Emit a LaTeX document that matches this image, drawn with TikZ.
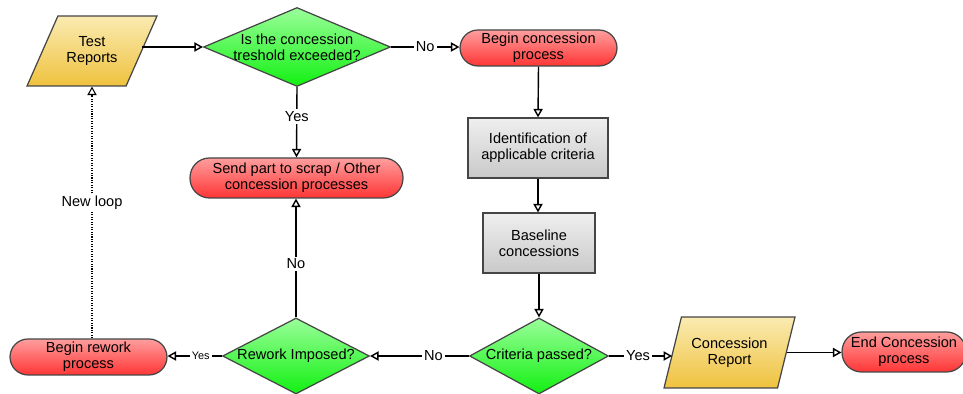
\documentclass[tikz,border=0pt]{standalone}
\usepackage{fontspec}
\setmainfont{Liberation Sans}
\usepackage{tikz}
\usetikzlibrary{positioning,shapes.geometric,arrows.meta}

\definecolor{edgegray}{HTML}{454545}
\definecolor{redtop}{HTML}{FF9E9E}
\definecolor{redbot}{HTML}{FF3535}
\definecolor{greentop}{HTML}{9AFF9A}
\definecolor{greenbot}{HTML}{12F012}
\definecolor{yellowtop}{HTML}{FAEBB2}
\definecolor{yellowbot}{HTML}{EFC23E}
\definecolor{graytop}{HTML}{EFEFEF}
\definecolor{graybot}{HTML}{C9C9C9}

\begin{document}
\begin{tikzpicture}[x=0.02cm,y=-0.02cm]
\tikzstyle{every node}+=[font=\fontsize{8.3}{9.3}\selectfont, align=center]
\tikzstyle{terminal}=[rectangle, rounded corners=0.36cm, draw=edgegray, line width=0.7pt, top color=redtop, bottom color=redbot, inner sep=0pt, minimum height=0.72cm]
\tikzstyle{process}=[rectangle, draw=edgegray, line width=0.7pt, top color=graytop, bottom color=graybot, inner sep=0pt, minimum height=1.2cm]
\tikzstyle{decision}=[diamond, draw=edgegray, line width=0.7pt, top color=greentop, bottom color=greenbot, inner sep=0pt]
\tikzstyle{report}=[trapezium, trapezium stretches body, draw=edgegray, line width=0.7pt, top color=yellowtop, bottom color=yellowbot, inner xsep=0pt, inner ysep=0.4cm]
\tikzstyle{conn}=[draw=black, line width=0.8pt, -{Triangle[open,length=4.8pt,width=5.2pt]}]
\tikzstyle{lbl}=[fill=white, inner sep=1.2pt]
\tikzstyle{small}=[font=\fontsize{6.2}{7}\selectfont]
\useasboundingbox (0,0) rectangle (963,394);

\node[report, trapezium left angle=66, trapezium right angle=114, minimum width=2.6cm, minimum height=1.4cm] (reports) at (92,51) {Test\\Reports};
\node[decision, minimum width=3.74cm, minimum height=1.58cm, label={center:Is the concession\\treshold exceeded?}] (threshold) at (297,47) {};
\node[terminal, minimum width=3.14cm] (begin) at (538.5,48) {Begin concession\\process};
\node[process, minimum width=2.8cm] (ident) at (538,148) {Identification of\\applicable criteria};
\node[process, minimum width=2.24cm] (baseline) at (539,243) {Baseline\\concessions};
\node[terminal, minimum width=4.26cm, minimum height=0.8cm, rounded corners=0.39cm] (scrap) at (296.5,178) {Send part to scrap / Other\\concession processes};
\node[decision, minimum width=2.78cm, minimum height=1.52cm, label={center:Criteria passed?}] (criteria) at (539,356) {};
\node[decision, minimum width=2.94cm, minimum height=1.52cm, label={center:Rework Imposed?}] (rework) at (296,356) {};
\node[terminal, minimum width=3.14cm] (beginrework) at (88.5,357) {Begin rework\\process};
\node[report, trapezium left angle=76, trapezium right angle=104, minimum width=2.62cm, minimum height=1.42cm] (conreport) at (729.5,352.5) {Concession\\Report};
\node[terminal, minimum width=2.48cm, minimum height=0.8cm, rounded corners=0.39cm] (endproc) at (904,352) {End Concession\\process};

\draw[conn] (reports.east |- threshold.west) -- (threshold.west);
\draw[conn] (threshold.east) -- node[lbl] {No} (threshold.east -| begin.west);
\draw[conn] (threshold.south) -- node[lbl, pos=0.42] {Yes} (scrap.north);
\draw[conn] (begin.south) -- (ident.north);
\draw[conn] (ident.south) -- (ident.south |- baseline.north);
\draw[conn] (baseline.south) -- (criteria.north);
\draw[conn] (criteria.east) -- node[lbl, pos=0.46] {Yes} (criteria.east -| conreport.west);
\draw[conn] (conreport.east) -- (conreport.east -| endproc.west);
\draw[conn] (criteria.west) -- node[lbl, pos=0.36] {No} (rework.east);
\draw[conn] (rework.west) -- node[lbl, small, pos=0.39] {Yes} (rework.west -| beginrework.east);
\draw[conn] (rework.north) -- node[lbl, pos=0.45] {No} (rework.north |- scrap.south);
\draw[conn, dash pattern=on 0.6pt off 0.8pt, line width=0.6pt] (beginrework.north -| reports.south) -- node[lbl, pos=0.54] {New loop} (reports.south);
\end{tikzpicture}
\end{document}
